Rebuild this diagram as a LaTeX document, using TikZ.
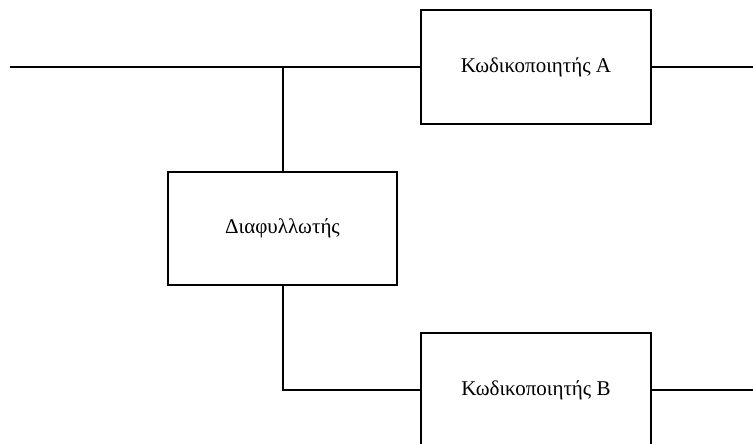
\documentclass[tikz,border=0pt]{standalone}
\usepackage{fontspec}
\setmainfont{Liberation Serif}
\begin{document}
\begin{tikzpicture}[x=1pt,y=-1pt,
  block/.style={draw, line width=1.1pt, minimum width=230pt, minimum height=114pt,
    inner sep=0pt, font=\fontsize{21}{24}\selectfont},
  wire/.style={line width=1.3pt}]
\clip (0,0) rectangle (753,444);
\useasboundingbox (0,0) rectangle (753,444);
% encoder and interleaver blocks
\node[block] (encA) at (536,67) {Κωδικοποιητής A};
\node[block, minimum width=229pt, minimum height=113pt] (intl) at (282.5,228.5) {Διαφυλλωτής};
\node[block] (encB) at (536,390) {Κωδικοποιητής B};
% input line, branch point and outputs
\coordinate (in) at (10,67);
\coordinate (split) at (283,67);
\coordinate (outA) at (753,67);
\coordinate (bend) at (283,390);
\coordinate (outB) at (753,390);
\draw[wire] (in) -- (encA.west);
\draw[wire] (encA.east) -- (outA);
\draw[wire] (split) -- (split |- intl.north);
\draw[wire] (split |- intl.south) -- (bend) -- (encB.west);
\draw[wire] (encB.east) -- (outB);
\end{tikzpicture}
\end{document}
